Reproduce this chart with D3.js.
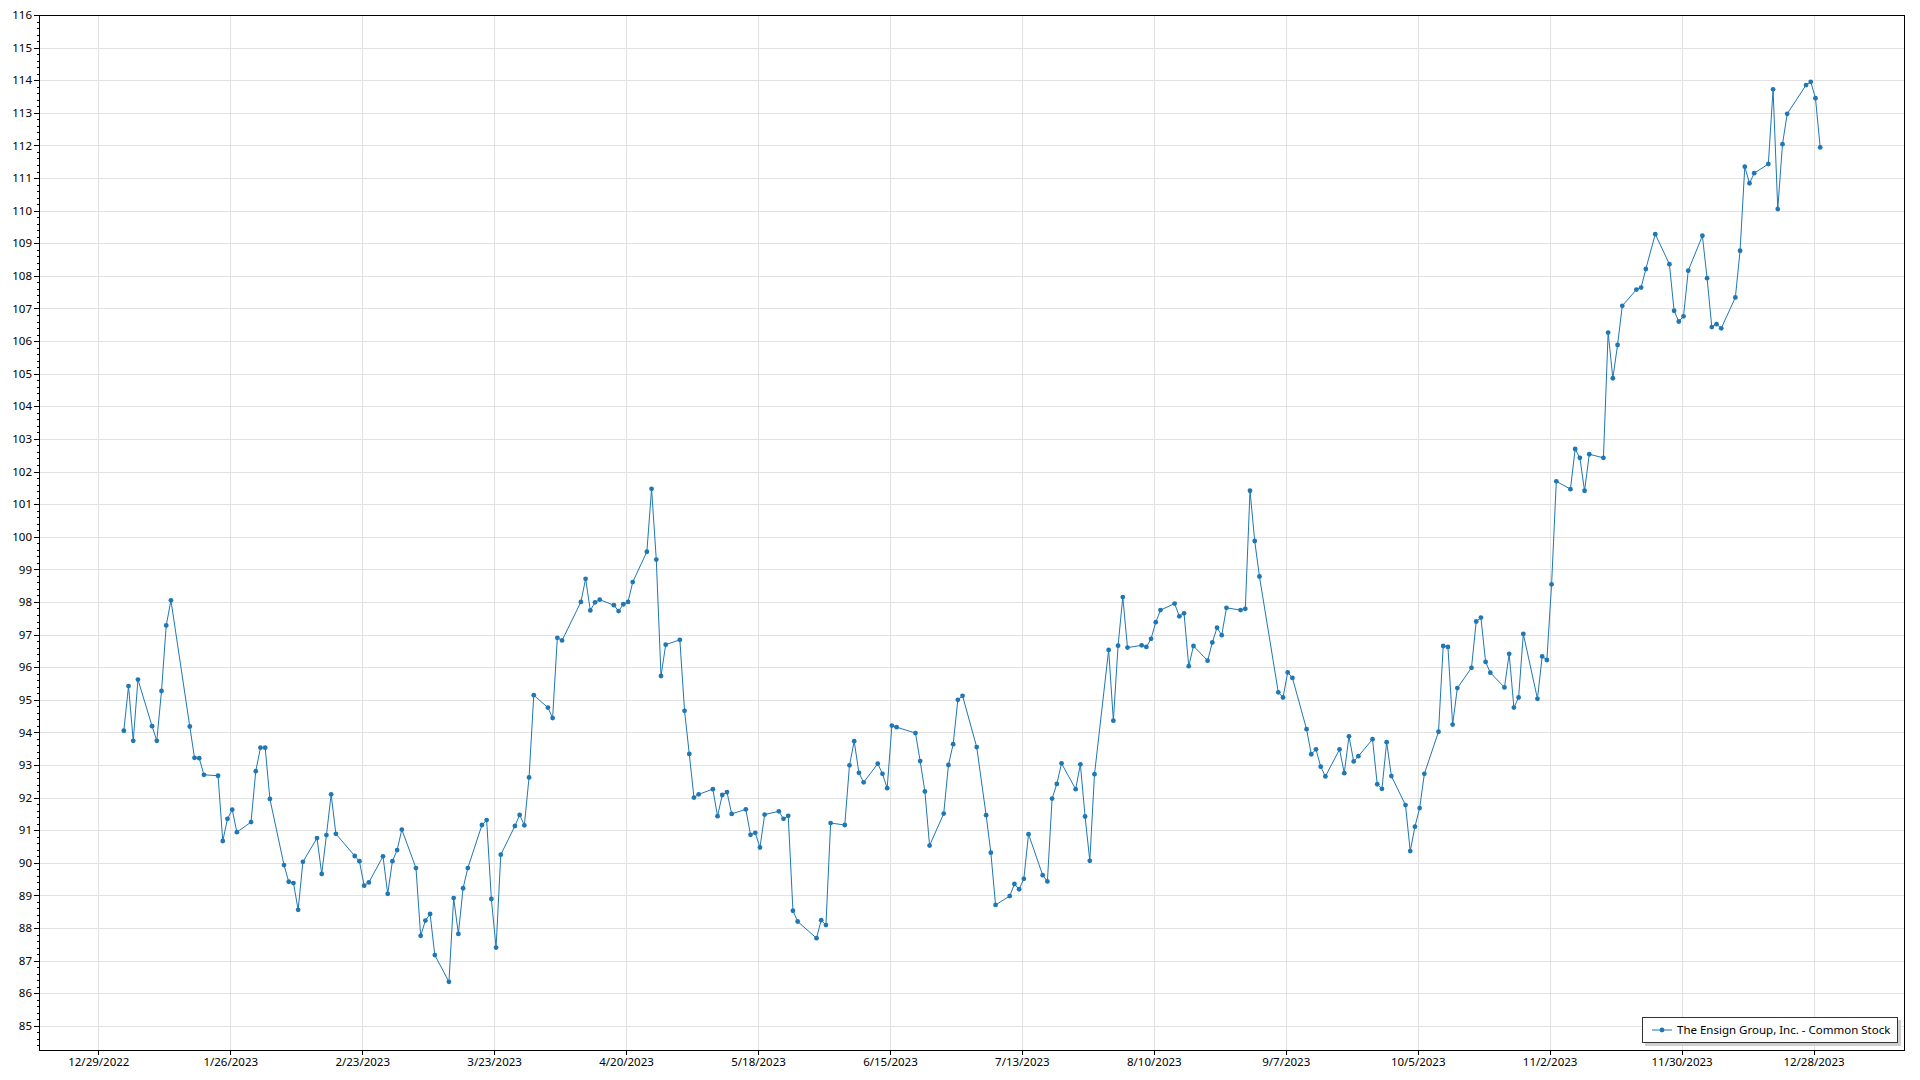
<!DOCTYPE html>
<html><head><meta charset="utf-8">
<script src="https://cdn.jsdelivr.net/npm/d3@7"></script>
<style>
html,body{margin:0;padding:0;background:#fff;}
svg{display:block;font-family:"Noto Sans",sans-serif;}
</style></head><body>
<svg id="chart" width="1920" height="1080"></svg>
<script>
const seriesName = "The Ensign Group, Inc. - Common Stock";

const dates = [
"2023-01-03","2023-01-04","2023-01-05","2023-01-06","2023-01-09","2023-01-10","2023-01-11","2023-01-12","2023-01-13","2023-01-17",
"2023-01-18","2023-01-19","2023-01-20","2023-01-23","2023-01-24","2023-01-25","2023-01-26","2023-01-27","2023-01-30","2023-01-31",
"2023-02-01","2023-02-02","2023-02-03","2023-02-06","2023-02-07","2023-02-08","2023-02-09","2023-02-10","2023-02-13","2023-02-14",
"2023-02-15","2023-02-16","2023-02-17","2023-02-21","2023-02-22","2023-02-23","2023-02-24","2023-02-27","2023-02-28",
"2023-03-01","2023-03-02","2023-03-03","2023-03-06","2023-03-07","2023-03-08","2023-03-09","2023-03-10","2023-03-13","2023-03-14",
"2023-03-15","2023-03-16","2023-03-17","2023-03-20","2023-03-21","2023-03-22","2023-03-23","2023-03-24","2023-03-27","2023-03-28",
"2023-03-29","2023-03-30","2023-03-31",
"2023-04-03","2023-04-04","2023-04-05","2023-04-06","2023-04-10","2023-04-11","2023-04-12","2023-04-13","2023-04-14","2023-04-17",
"2023-04-18","2023-04-19","2023-04-20","2023-04-21","2023-04-24","2023-04-25","2023-04-26","2023-04-27","2023-04-28",
"2023-05-01","2023-05-02","2023-05-03","2023-05-04","2023-05-05","2023-05-08","2023-05-09","2023-05-10","2023-05-11","2023-05-12",
"2023-05-15","2023-05-16","2023-05-17","2023-05-18","2023-05-19","2023-05-22","2023-05-23","2023-05-24","2023-05-25","2023-05-26",
"2023-05-30","2023-05-31",
"2023-06-01","2023-06-02","2023-06-05","2023-06-06","2023-06-07","2023-06-08","2023-06-09","2023-06-12","2023-06-13","2023-06-14",
"2023-06-15","2023-06-16","2023-06-20","2023-06-21","2023-06-22","2023-06-23","2023-06-26","2023-06-27","2023-06-28","2023-06-29",
"2023-06-30",
"2023-07-03","2023-07-05","2023-07-06","2023-07-07","2023-07-10","2023-07-11","2023-07-12","2023-07-13","2023-07-14","2023-07-17",
"2023-07-18","2023-07-19","2023-07-20","2023-07-21","2023-07-24","2023-07-25","2023-07-26","2023-07-27","2023-07-28","2023-07-31",
"2023-08-01","2023-08-02","2023-08-03","2023-08-04","2023-08-07","2023-08-08","2023-08-09","2023-08-10","2023-08-11","2023-08-14",
"2023-08-15","2023-08-16","2023-08-17","2023-08-18","2023-08-21","2023-08-22","2023-08-23","2023-08-24","2023-08-25","2023-08-28",
"2023-08-29","2023-08-30","2023-08-31",
"2023-09-01","2023-09-05","2023-09-06","2023-09-07","2023-09-08","2023-09-11","2023-09-12","2023-09-13","2023-09-14","2023-09-15",
"2023-09-18","2023-09-19","2023-09-20","2023-09-21","2023-09-22","2023-09-25","2023-09-26","2023-09-27","2023-09-28","2023-09-29",
"2023-10-02","2023-10-03","2023-10-04","2023-10-05","2023-10-06","2023-10-09","2023-10-10","2023-10-11","2023-10-12","2023-10-13",
"2023-10-16","2023-10-17","2023-10-18","2023-10-19","2023-10-20","2023-10-23","2023-10-24","2023-10-25","2023-10-26","2023-10-27",
"2023-10-30","2023-10-31",
"2023-11-01","2023-11-02","2023-11-03","2023-11-06","2023-11-07","2023-11-08","2023-11-09","2023-11-10","2023-11-13","2023-11-14",
"2023-11-15","2023-11-16","2023-11-17","2023-11-20","2023-11-21","2023-11-22","2023-11-24","2023-11-27","2023-11-28","2023-11-29",
"2023-11-30",
"2023-12-01","2023-12-04","2023-12-05","2023-12-06","2023-12-07","2023-12-08","2023-12-11","2023-12-12","2023-12-13","2023-12-14",
"2023-12-15","2023-12-18","2023-12-19","2023-12-20","2023-12-21","2023-12-22","2023-12-26","2023-12-27","2023-12-28","2023-12-29"
];

const closes = [
94.05,95.42,93.74,95.62,94.19,93.74,95.27,97.28,98.05,94.18,
93.22,93.21,92.70,92.67,90.67,91.35,91.63,90.94,91.25,92.81,
93.53,93.53,91.96,89.93,89.42,89.38,88.56,90.03,90.76,89.66,
90.85,92.10,90.89,90.21,90.05,89.30,89.40,90.20,89.05,
90.05,90.39,91.02,89.84,87.76,88.23,88.43,87.17,86.35,88.92,
87.82,89.22,89.84,91.16,91.31,88.89,87.40,90.25,91.13,91.47,
91.15,92.62,95.14,
94.76,94.44,96.90,96.82,98.00,98.71,97.74,97.99,98.07,97.90,
97.72,97.93,98.00,98.61,99.54,101.47,99.30,95.73,96.69,
96.84,94.66,93.34,92.00,92.10,92.26,91.43,92.08,92.17,91.50,
91.64,90.86,90.92,90.47,91.48,91.58,91.35,91.44,88.53,88.20,
87.69,88.24,
88.09,91.22,91.16,92.99,93.73,92.76,92.47,93.04,92.73,92.29,
94.21,94.16,93.98,93.12,92.19,90.53,91.51,93.00,93.64,95.00,
95.12,
93.55,91.46,90.31,88.71,88.98,89.35,89.19,89.51,90.88,89.62,
89.43,91.97,92.42,93.05,92.26,93.02,91.42,90.06,92.72,96.53,
94.36,96.66,98.15,96.60,96.67,96.62,96.87,97.38,97.75,97.95,
97.56,97.65,96.03,96.65,96.20,96.76,97.21,96.98,97.82,97.75,
97.79,101.41,99.87,
98.78,95.23,95.07,95.84,95.67,94.10,93.33,93.48,92.95,92.65,
93.48,92.75,93.88,93.11,93.27,93.79,92.41,92.27,93.70,92.66,
91.77,90.36,91.11,91.68,92.73,94.02,96.65,96.62,94.24,95.36,
95.98,97.40,97.52,96.16,95.83,95.38,96.41,94.76,95.07,97.02,
95.03,96.33,
96.22,98.54,101.70,101.46,102.69,102.42,101.41,102.53,102.42,106.26,
104.86,105.88,107.08,107.58,107.64,108.21,109.28,108.36,106.93,106.60,
106.76,
108.16,109.23,107.93,106.43,106.52,106.39,107.34,108.77,111.35,110.84,
111.15,111.43,113.72,110.05,112.04,112.97,113.85,113.95,113.45,111.94
];

const xTickLabels = ["12/29/2022","1/26/2023","2/23/2023","3/23/2023","4/20/2023","5/18/2023","6/15/2023",
  "7/13/2023","8/10/2023","9/7/2023","10/5/2023","11/2/2023","11/30/2023","12/28/2023"];
const yTickValues = [85,86,87,88,89,90,91,92,93,94,95,96,97,98,99,100,101,102,103,104,105,106,107,108,109,110,111,112,113,114,115,116];

// layout
const L = 39, T = 15, R = 1905, B = 1050;
const lineColor = "#1f77b4";
const gridColor = "#e2e2e2";
const fontSize = "11.5px";

const svg = d3.select("#chart");
const parseISO = d3.timeParse("%Y-%m-%d");
const parseTick = d3.timeParse("%m/%d/%Y");
const pts = dates.map((d, i) => ({ t: d3.timeHour.offset(parseISO(d), 10), v: closes[i] }));
const xTicks = xTickLabels.map(s => parseTick(s));

const x = d3.scaleTime()
  .domain([new Date(2022, 11, 16, 10), new Date(2024, 0, 16, 10)])
  .range([L, R]);
const y = d3.scaleLinear().domain([84.26, 116]).range([B, T]);

const minorY = [];
for (let v = 84.4; v < 116; v += 0.2) {
  const r = Math.round(v * 10) / 10;
  if (Math.abs(r - Math.round(r)) > 1e-6) minorY.push(r);
}

// grid
const grid = svg.append("g").attr("shape-rendering", "crispEdges");
grid.selectAll("line.h").data(yTickValues.filter(v => v < 116)).join("line")
  .attr("x1", L).attr("x2", R)
  .attr("y1", d => Math.round(y(d)) + 0.5).attr("y2", d => Math.round(y(d)) + 0.5)
  .attr("stroke", gridColor).attr("stroke-width", 1);
grid.selectAll("line.v").data(xTicks).join("line")
  .attr("y1", T).attr("y2", B)
  .attr("x1", d => Math.round(x(d)) + 0.5).attr("x2", d => Math.round(x(d)) + 0.5)
  .attr("stroke", gridColor).attr("stroke-width", 1);

// axes
const yAxis = svg.append("g").attr("transform", `translate(${L},0)`)
  .call(d3.axisLeft(y).tickValues(yTickValues).tickSize(5).tickSizeOuter(0).tickPadding(2).tickFormat(d3.format("d")));
const yMinor = svg.append("g").attr("transform", `translate(${L},0)`)
  .call(d3.axisLeft(y).tickValues(minorY).tickSize(2).tickSizeOuter(0).tickFormat(""));
const xAxis = svg.append("g").attr("transform", `translate(0,${B})`)
  .call(d3.axisBottom(x).tickValues(xTicks).tickSize(5).tickSizeOuter(0).tickPadding(3).tickFormat(d3.timeFormat("%-m/%-d/%Y")));
[yAxis, yMinor, xAxis].forEach(g => {
  g.select(".domain").remove();
  g.attr("shape-rendering", "crispEdges");
  g.selectAll(".tick line").attr("stroke", "#000");
  g.selectAll("text").attr("fill", "#000").style("font-size", fontSize).style("font-family", '"Noto Sans", sans-serif');
});

// plot border
svg.append("rect")
  .attr("x", L + 0.5).attr("y", T + 0.5).attr("width", R - L - 1).attr("height", B - T)
  .attr("fill", "none").attr("stroke", "#000").attr("stroke-width", 1).attr("shape-rendering", "crispEdges");

// series
const line = d3.line().x(d => x(d.t)).y(d => y(d.v));
svg.append("path").datum(pts)
  .attr("d", line).attr("fill", "none").attr("stroke", lineColor).attr("stroke-width", 1);
svg.append("g").selectAll("circle").data(pts).join("circle")
  .attr("cx", d => x(d.t)).attr("cy", d => y(d.v)).attr("r", 2.4).attr("fill", lineColor);

// legend
const lg = svg.append("g");
lg.append("rect").attr("x", 1645).attr("y", 1020).attr("width", 256).attr("height", 26)
  .attr("fill", "#cfcfcf").attr("shape-rendering", "crispEdges");
lg.append("rect").attr("x", 1642.5).attr("y", 1017.5).attr("width", 255).attr("height", 25)
  .attr("fill", "#fff").attr("stroke", "#333").attr("stroke-width", 1).attr("shape-rendering", "crispEdges");
lg.append("line").attr("x1", 1652).attr("x2", 1672).attr("y1", 1030).attr("y2", 1030)
  .attr("stroke", lineColor).attr("stroke-width", 1);
lg.append("circle").attr("cx", 1662).attr("cy", 1030).attr("r", 2.4).attr("fill", lineColor);
lg.append("text").attr("x", 1677).attr("y", 1030).attr("dy", "0.35em")
  .style("font-size", fontSize).attr("fill", "#000").text(seriesName);
</script>
</body></html>
